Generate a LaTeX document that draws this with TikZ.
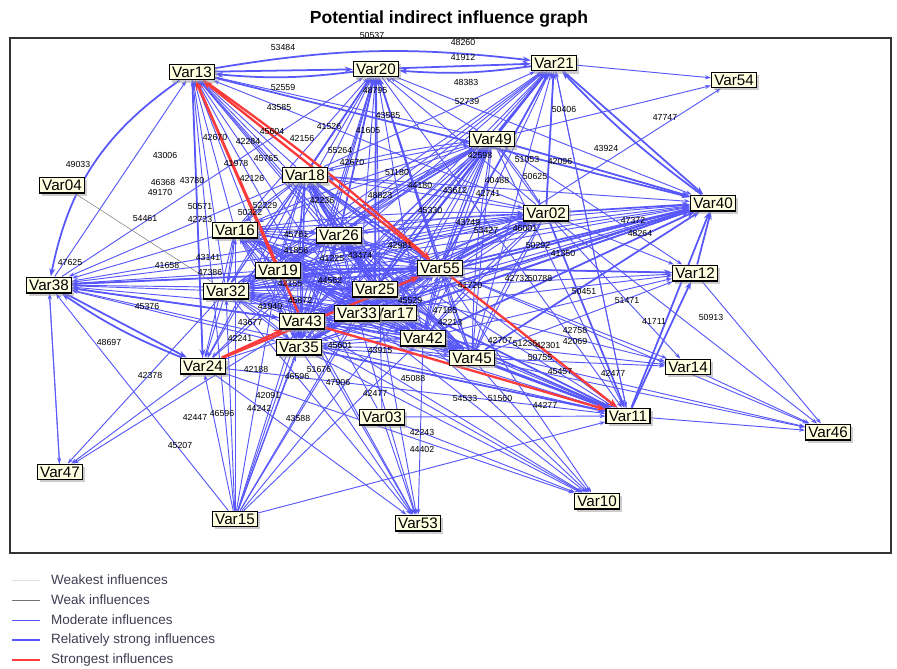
\documentclass[tikz,border=0pt]{standalone}
\usepackage{fontspec}
\setmainfont{Liberation Sans}
\usetikzlibrary{shadows}
\usetikzlibrary{backgrounds}
\usetikzlibrary{arrows.meta}

\definecolor{edgeblue}{RGB}{88,88,250}
\definecolor{edgered}{RGB}{250,60,60}
\definecolor{boxfill}{RGB}{255,255,226}
\definecolor{legendtext}{RGB}{62,62,82}

\tikzset{
    varbox/.style={draw=black, line width=0.9pt, fill=boxfill, inner xsep=2.4pt, inner ysep=2.2pt,
        font=\fontsize{13}{14}\selectfont,
        drop shadow={shadow xshift=2.2pt, shadow yshift=-2.2pt, fill=black!40}},
    wlabel/.style={font=\fontsize{7.5}{8}\selectfont, inner sep=0pt},
    weakest/.style={draw=black!12, line width=0.4pt},
    weak/.style={draw=black!55, line width=0.4pt},
    moderate/.style={draw=edgeblue, line width=0.8pt, -{Stealth[length=5pt, width=3.5pt]}},
    strong/.style={draw=edgeblue, line width=1.5pt, -{Stealth[length=7pt, width=5pt]}},
    strongest/.style={draw=edgered, line width=2pt, -{Stealth[length=8pt, width=6pt]}},
}

\begin{document}
\begin{tikzpicture}[x=0.03cm, y=-0.03cm]
            \useasboundingbox (0,0) rectangle (897,668);

            % Title and frame
            \node[font=\fontsize{15}{18}\selectfont\bfseries] (title) at (449,19) {Potential indirect influence graph};
            \draw[line width=1.1pt, black!80] (10,38) rectangle (891,553);

            % Edge weights
            \foreach \x/\y/\t [count=\i] in {283/47/53484, 372/35/50537, 283/87/52559, 279/107/43585,
                388/115/43585, 329/126/41526, 368/130/41605, 215/137/42670, 302/138/42156, 375/90/48795,
                78/164/49033, 165/155/43006, 163/182/46368, 160/192/49170, 192/180/43780, 145/218/54461,
                200/206/50571, 200/219/42723, 70/262/47625, 167/265/41658, 208/257/43141, 463/42/48260,
                463/57/41912, 466/82/48383, 467/101/52739, 564/109/50406, 665/117/47747, 606/148/43924,
                527/159/51053, 560/161/42096, 535/176/50625, 633/220/47372, 640/233/48264, 109/342/48697,
                150/375/42378, 195/417/42447, 222/413/46596, 180/445/45207, 268/395/42091, 259/408/44242,
                256/369/42188, 297/376/46596, 319/369/51676, 338/382/47906, 298/418/43588, 375/393/42477,
                422/432/42243, 422/449/44402, 413/378/45088, 147/306/45376, 584/291/50451, 627/301/51471,
                654/321/41711, 711/317/50913, 575/341/42069, 613/373/42477}
                \node[wlabel] (lab\i) at (\x,\y) {\t};
            % Crowded weights in the centre
            \foreach \x/\y/\t [count=\i] in {248/141/42284, 272/131/45604, 236/163/41978, 252/178/42126,
                266/158/45765, 322/200/42236, 296/234/45781, 296/250/41856, 340/150/55264, 352/162/42670,
                397/172/51180, 480/155/42598, 497/180/40488, 488/193/42741, 468/222/43749, 486/230/53427,
                525/228/46001, 538/245/50292, 563/253/41350, 410/300/45529, 470/285/41720, 517/278/42732,
                540/278/50788, 500/340/42707, 525/343/51236, 548/345/42301, 540/357/50755, 560/372/45457,
                465/398/54533, 500/398/51560, 545/405/44277, 575/330/42758, 210/272/47386, 290/283/42155,
                250/322/43677, 240/338/42241, 332/258/41225, 360/255/43474, 330/280/44562, 400/245/42981,
                430/210/45330, 455/190/43612, 300/300/45872, 270/306/41940, 380/350/43915, 340/345/45601,
                450/322/42213, 445/310/47185, 265/205/52229, 250/212/50322, 380/195/48823, 420/185/44180}
                \node[wlabel] (mid\i) at (\x,\y) {\t};

            % Variables
            \node[varbox] (var13) at (192,72) {Var13};
            \node[varbox] (var20) at (376,69) {Var20};
            \node[varbox] (var21) at (554,63) {Var21};
            \node[varbox] (var54) at (734,80) {Var54};
            \node[varbox] (var04) at (62,185) {Var04};
            \node[varbox] (var18) at (305,175) {Var18};
            \node[varbox] (var49) at (492,139) {Var49};
            \node[varbox] (var02) at (546,213) {Var02};
            \node[varbox] (var40) at (713,203) {Var40};
            \node[varbox] (var16) at (235,230) {Var16};
            \node[varbox] (var26) at (339,235) {Var26};
            \node[varbox] (var55) at (440,268) {Var55};
            \node[varbox] (var38) at (49,285) {Var38};
            \node[varbox] (var19) at (278,270) {Var19};
            \node[varbox] (var32) at (226,291) {Var32};
            \node[varbox] (var25) at (375,289) {Var25};
            \node[varbox] (var17) at (394,313) {Var17};
            \node[varbox] (var33) at (357,313) {Var33};
            \node[varbox] (var43) at (302,321) {Var43};
            \node[varbox] (var42) at (423,338) {Var42};
            \node[varbox] (var35) at (299,347) {Var35};
            \node[varbox] (var24) at (203,366) {Var24};
            \node[varbox] (var45) at (472,358) {Var45};
            \node[varbox] (var12) at (695,273) {Var12};
            \node[varbox] (var14) at (688,367) {Var14};
            \node[varbox] (var11) at (628,416) {Var11};
            \node[varbox] (var46) at (828,432) {Var46};
            \node[varbox] (var03) at (382,417) {Var03};
            \node[varbox] (var47) at (60,472) {Var47};
            \node[varbox] (var15) at (235,519) {Var15};
            \node[varbox] (var53) at (418,523) {Var53};
            \node[varbox] (var10) at (597,501) {Var10};

            \begin{scope}[on background layer]
            % Dense centre
            \foreach \a [count=\i] in {var16,var26,var19,var32,var25,var33,var17,var43,var35,var42,var45,var55,var18,var49,var02} {
                \foreach \b [count=\j] in {var16,var26,var19,var32,var25,var33,var17,var43,var35,var42,var45,var55,var18,var49,var02} {
                    \ifnum\j>\i \draw[moderate] (\b) -- (\a); \fi
                    \ifnum\j<\i \draw[moderate] (\b) to[bend left=4] (\a); \fi
                }
            }

            % Into the hubs
            \foreach \s in {var18,var16,var26,var32,var24,var38,var35,var33,var49,var02,var42,var45,var03,var15,var17}
                \draw[moderate] (\s) -- (var13);
            \foreach \s in {var18,var16,var26,var19,var32,var25,var33,var43,var35,var24,var38,var55,var42,var45,var02,var49,var03,var15}
                \draw[moderate] (\s) -- (var20);
            \foreach \s in {var18,var26,var19,var25,var55,var49,var02,var42,var45,var43,var35,var11,var24,var32}
                \draw[moderate] (\s) -- (var21);
            \foreach \s in {var20,var49,var25,var17,var33,var43,var42,var26,var18,var19,var32,var24,var38,var35}
                \draw[moderate] (\s) -- (var40);
            \foreach \s in {var17,var49,var21,var20,var35,var24,var03,var15,var26,var18,var32,var19,var13,var38,var25,var33}
                \draw[moderate] (\s) -- (var11);
            \foreach \s in {var32,var19,var16,var43,var35,var33,var25,var55,var42,var26,var18,var15}
                \draw[moderate] (\s) -- (var38);
            \foreach \s in {var32,var15,var18,var16,var26}
                \draw[moderate] (\s) -- (var24);
            \foreach \s in {var55,var02,var45,var42,var25,var33,var49}
                \draw[moderate] (\s) -- (var12);
            \foreach \s in {var11,var14,var12,var55,var45,var42,var02}
                \draw[moderate] (\s) -- (var46);
            \foreach \s in {var55,var45,var42,var02,var25}
                \draw[moderate] (\s) -- (var14);
            \foreach \s in {var24,var03,var42,var45,var35,var43,var33,var55,var32}
                \draw[moderate] (\s) -- (var10);
            \foreach \s in {var24,var03,var35,var43,var42,var33,var25,var19,var32}
                \draw[moderate] (\s) -- (var53);
            \foreach \t in {var32,var43,var35,var33,var25,var55,var42,var19,var16,var26}
                \draw[moderate] (var15) -- (\t);
            \foreach \s in {var38,var24,var32,var43}
                \draw[moderate] (\s) -- (var47);
            \draw[moderate] (var21) -- (var54);
            \draw[moderate] (var55) -- (var54);
            \draw[moderate] (var49) -- (var54);
            \draw[moderate] (var47) -- (var38);
            \draw[weak] (var04) -- (var32);

            % Relatively strong
            \draw[strong] (var13) -- (var20);
            \draw[strong] (var20) to[bend left=6] (var13);
            \draw[strong] (var20) -- (var21);
            \draw[strong] (var21) to[bend left=6] (var20);
            \draw[strong] (var13) to[bend left=8] (var21);
            \draw[strong] (var21) -- (var40);
            \draw[strong] (var40) to[bend left=5] (var21);
            \draw[strong] (var13) to[bend right=22] (var38);
            \draw[strong] (var38) -- (var24);
            \draw[strong] (var24) to[bend left=6] (var38);
            \draw[strong] (var13) -- (var24);
            \draw[strong] (var11) -- (var40);
            \draw[strong] (var12) -- (var40);
            \draw[strong] (var11) -- (var12);
            \foreach \s in {var55,var45,var02,var13,var25,var33,var17,var42,var49}
                \draw[strong] (\s) -- (var40);
            \foreach \s in {var45,var42,var02,var17,var33,var25,var35}
                \draw[strong] (\s) -- (var11);
            \foreach \s in {var43,var35,var33,var19,var32,var16,var18,var38}
                \draw[strong] (\s) -- (var55);
            \foreach \s in {var49,var25,var02,var55}
                \draw[strong] (\s) -- (var21);
            \foreach \s in {var18,var26,var25,var55}
                \draw[strong] (\s) -- (var20);
            \draw[strong] (var55) -- (var12);
            \draw[strong] (var38) -- (var43);

            % Strongest
            \draw[strongest] (var19) -- (var13);
            \draw[strongest] (var43) -- (var13);
            \draw[strongest] (var55) -- (var13);
            \draw[strongest] (var13) to[bend left=3] (var55);
            \draw[strongest] (var24) -- (var43);
            \draw[strongest] (var24) -- (var55);
            \draw[strongest] (var55) -- (var11);
            \draw[strongest] (var43) -- (var11);
            \end{scope}

            % Legend
            \foreach \y/\s/\t [count=\i] in {580/weakest/Weakest influences, 600/weak/Weak influences,
                620/moderate/Moderate influences, 640/strong/Relatively strong influences,
                660/strongest/Strongest influences} {
                \draw[\s, -] (12,\y) -- (40,\y);
                \node[anchor=west, text=legendtext, font=\fontsize{11.5}{13}\selectfont, inner sep=0pt] (leg\i) at (51,\y) {\t};
            }
        \end{tikzpicture}
\end{document}
